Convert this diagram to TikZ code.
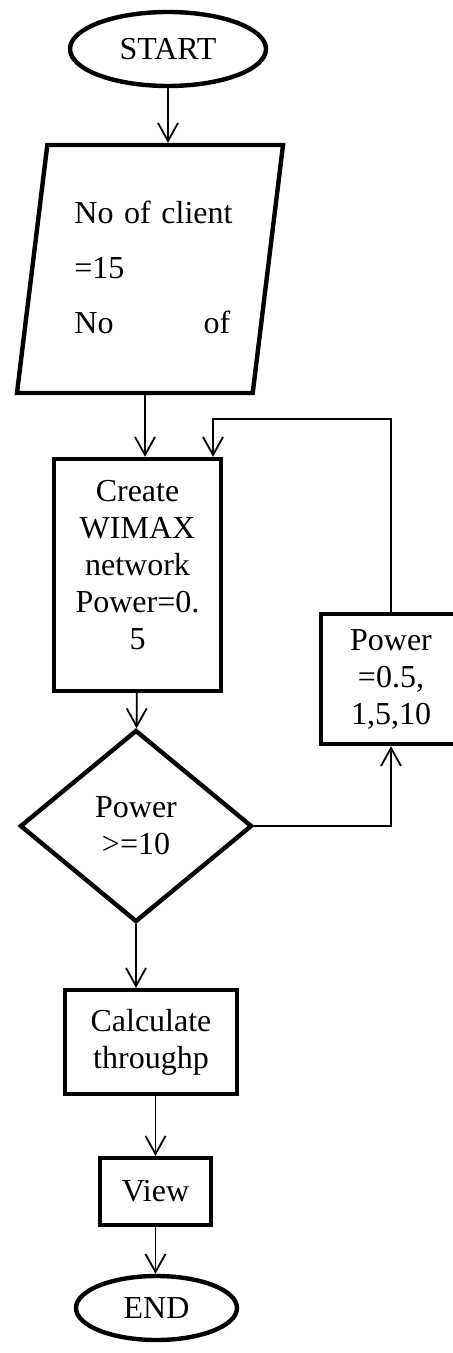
\documentclass[tikz,border=0pt]{standalone}
\usepackage{fontspec}
\setmainfont{Liberation Serif}
\usetikzlibrary{shapes.geometric, arrows.meta, positioning, calc}

\begin{document}
\begin{tikzpicture}[
  x=0.5pt, y=-0.5pt,
  flowbox/.style={draw, line width=2.2pt, rectangle, inner sep=0pt,
    font=\fontsize{16}{18.5}\selectfont, align=center},
  term/.style={flowbox, ellipse},
  decide/.style={flowbox, diamond, aspect=1.2},
  inbox/.style={draw, line width=2.2pt, trapezium, trapezium left angle=81.6,
    trapezium right angle=98.4, trapezium stretches=true, inner sep=2pt},
  listtext/.style={font=\fontsize{16}{27.5}\selectfont, text width=78pt,
    align=left, inner sep=0pt},
  arrow/.style={-{Straight Barb[length=9pt, width=10pt]}, line width=0.9pt}
]
\useasboundingbox (0,0) rectangle (453,1353);
\clip (0,0) rectangle (453,1353);

% Start
\node[term, minimum width=98pt, minimum height=37pt] (start) at (168,49) {START};

% Input
\node[inbox, minimum width=133pt, minimum height=124pt] (input) at (150,269) {};
\node[listtext, anchor=north west] (inputtext) at (74,201)
  {\mbox{No of client}\\=15\\No\hskip 0pt plus 1fill of};

% Network set-up
\node[flowbox, minimum width=83.5pt, minimum height=116pt, text depth=10pt] (create) at (137.5,575)
  {Create\\WIMAX\\network\\Power=0.\\5};

% Power values
\node[flowbox, minimum width=70pt, minimum height=65pt] (powerset) at (391,679)
  {Power\\=0.5,\\1,5,10};

% Decision
\node[decide, minimum width=116pt, minimum height=96pt] (decision) at (136,826)
  {Power\\>=10};

% Output steps
\node[flowbox, minimum width=86pt, minimum height=52pt] (calc) at (151,1042)
  {Calculate\\throughp};
\node[flowbox, minimum width=55.5pt, minimum height=33.5pt] (view) at (155.5,1191.5) {View};
\node[term, minimum width=80.5pt, minimum height=32pt] (stop) at (156.5,1308) {END};

% Arrows
\coordinate (looptop) at (213,419);
\draw[arrow] (start) -- (start |- input.north);
\draw[arrow] ([xshift=-2.5pt]input.south) -- ([xshift=-2.5pt]input.south |- create.north);
\draw[arrow] (powerset.north) |- (looptop) -- (looptop |- create.north);
\draw[arrow] (create) -- (decision);
\draw[arrow] (decision.east) -| (powerset.south);
\draw[arrow] (decision.south) -- (decision.south |- calc.north);
\draw[arrow] (calc.south -| view.north) -- (view.north);
\draw[arrow] (view) -- (view |- stop.north);

\end{tikzpicture}
\end{document}
